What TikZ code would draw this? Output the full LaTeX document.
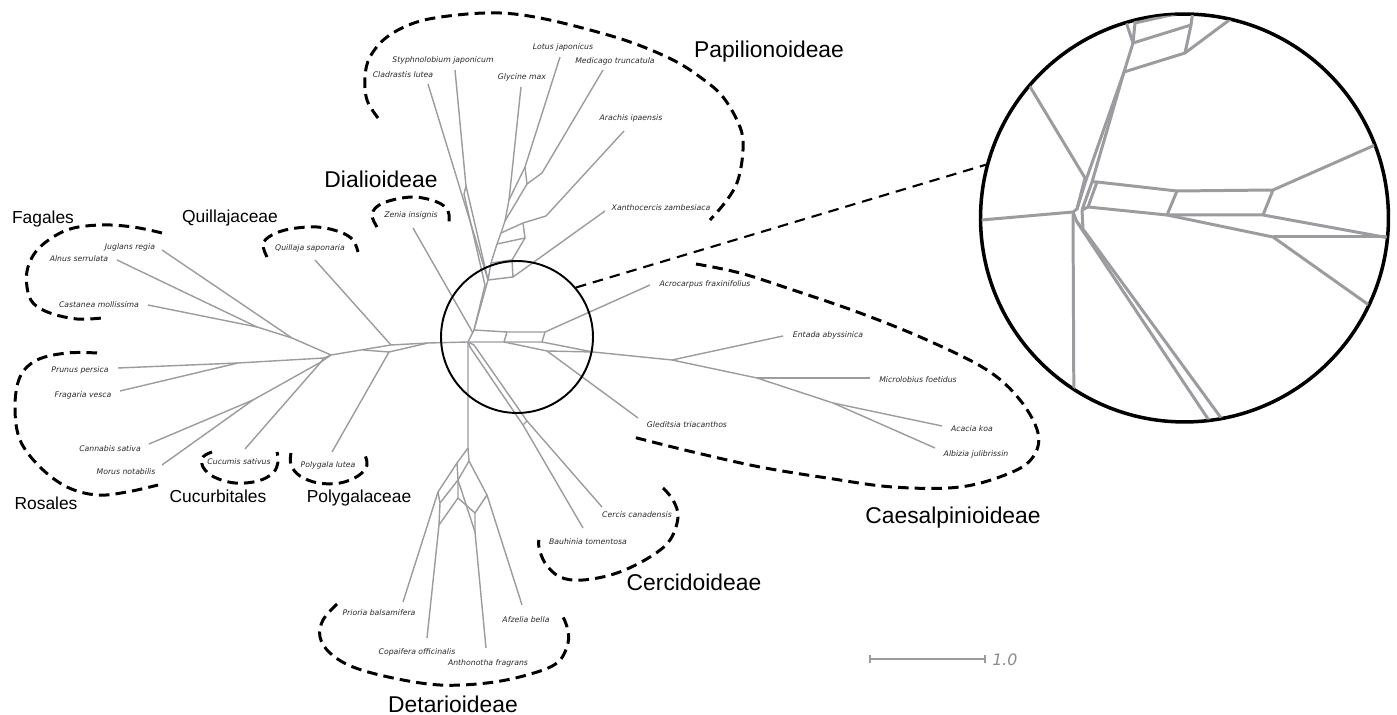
\documentclass[tikz,border=0pt]{standalone}
\usepackage{fontspec}
\usepackage{xcolor}
\newfontfamily\cladefont{Liberation Sans}
\newfontfamily\taxfont{DejaVu Sans}
\definecolor{netgray}{RGB}{155,155,160}
\definecolor{taxtext}{RGB}{40,40,40}

\begin{document}
\begin{tikzpicture}[x=0.02cm,y=-0.02cm,
  net/.style={draw=netgray,line width=0.8pt,line join=round},
  zoomnet/.style={draw=netgray,line width=1.7pt,line join=round},
  tax/.style={font=\taxfont\itshape\fontsize{4.4}{5}\selectfont,text=taxtext,inner sep=0pt},
  clade/.style={font=\cladefont\fontsize{13}{15}\selectfont,inner sep=0pt,anchor=base},
  fam/.style={font=\cladefont\fontsize{9.9}{12}\selectfont,inner sep=0pt,anchor=base},
  group/.style={draw=black,line width=1.7pt,dash pattern=on 6pt off 3.5pt,smooth,tension=0.6},
]
\useasboundingbox (0,0) rectangle (1397,715);

% taxon labels
\node[tax] (jug) at (130,247) {Juglans regia};
\node[tax] (aln) at (79,259) {Alnus serrulata};
\node[tax] (cas) at (99,305) {Castanea mollissima};
\node[tax] (pru) at (80,370) {Prunus persica};
\node[tax] (fra) at (83,395) {Fragaria vesca};
\node[tax] (can) at (110,449) {Cannabis sativa};
\node[tax] (mor) at (126,472) {Morus notabilis};
\node[tax] (cuc) at (239,462) {Cucumis sativus};
\node[tax] (pol) at (328,465) {Polygala lutea};
\node[tax] (qui) at (310,248) {Quillaja saponaria};
\node[tax] (zen) at (411,215) {Zenia insignis};
\node[tax] (cla) at (403,75) {Cladrastis lutea};
\node[tax] (sty) at (443,60) {Styphnolobium japonicum};
\node[tax] (gly) at (522,77) {Glycine max};
\node[tax] (lot) at (563,47) {Lotus japonicus};
\node[tax] (med) at (615,61) {Medicago truncatula};
\node[tax] (ara) at (631,118) {Arachis ipaensis};
\node[tax] (xan) at (661,208) {Xanthocercis zambesiaca};
\node[tax] (acr) at (705,284) {Acrocarpus fraxinifolius};
\node[tax] (ent) at (828,335) {Entada abyssinica};
\node[tax] (mic) at (918,380) {Microlobius foetidus};
\node[tax] (aca) at (972,429) {Acacia koa};
\node[tax] (alb) at (976,454) {Albizia julibrissin};
\node[tax] (gle) at (687,425) {Gleditsia triacanthos};
\node[tax] (cer) at (637,515) {Cercis canadensis};
\node[tax] (bau) at (588,542) {Bauhinia tomentosa};
\node[tax] (pri) at (379,613) {Prioria balsamifera};
\node[tax] (cop) at (417,652) {Copaifera officinalis};
\node[tax] (ant) at (488,663) {Anthonotha fragrans};
\node[tax] (afz) at (526,620) {Afzelia bella};

% leaf ends
\coordinate (lJug) at (162,250);
\coordinate (lAln) at (117,260);
\coordinate (lCas) at (148,305);
\coordinate (lPru) at (118,368);
\coordinate (lFra) at (120,391);
\coordinate (lCan) at (149,444);
\coordinate (lMor) at (162,465);
\coordinate (lCuc) at (245,449);
\coordinate (lPol) at (332,452);
\coordinate (lQui) at (315,260);
\coordinate (lZen) at (413,228);
\coordinate (lCla) at (428,84);
\coordinate (lSty) at (455,70);
\coordinate (lGly) at (521,87);
\coordinate (lLot) at (560,57);
\coordinate (lMed) at (603,70);
\coordinate (lAra) at (624,131);
\coordinate (lXan) at (605,211);
\coordinate (lAcr) at (650,285);
\coordinate (lEnt) at (783,336);
\coordinate (lMic) at (870,378);
\coordinate (lAca) at (942,426);
\coordinate (lAlb) at (935,448);
\coordinate (lGle) at (638,418);
\coordinate (lCer) at (602,507);
\coordinate (lBau) at (583,528);
\coordinate (lPri) at (403,602);
\coordinate (lCop) at (427,638);
\coordinate (lAnt) at (486,648);
\coordinate (lAfz) at (522,605);

% inner vertices
\coordinate (h) at (468,342);
\coordinate (qa) at (428,343);
\coordinate (qb) at (391,345);
\coordinate (qc) at (389,352);
\coordinate (qd) at (363,350);
\coordinate (ro) at (331,355);
\coordinate (rp) at (324,358);
\coordinate (rq) at (321,362);
\coordinate (rf) at (292,338);
\coordinate (rfa) at (257,327);
\coordinate (rr) at (238,363);
\coordinate (rc) at (253,400);
\coordinate (zj) at (473,333);
\coordinate (ps) at (474,330);
\coordinate (pb) at (488,280);
\coordinate (pc) at (485,285);
\coordinate (s1) at (466,186);
\coordinate (s2) at (464,194);
\coordinate (g1) at (509,200);
\coordinate (l1) at (525,167);
\coordinate (l2) at (527,184);
\coordinate (m1) at (542,173);
\coordinate (k2) at (505,221);
\coordinate (k3) at (501,233);
\coordinate (k4) at (497,244);
\coordinate (k5) at (491,263);
\coordinate (a1) at (546,216);
\coordinate (a2) at (523,223);
\coordinate (a3) at (525,238);
\coordinate (x1) at (513,277);
\coordinate (x2) at (512,260);
\coordinate (c1) at (507,332);
\coordinate (c2) at (545,332);
\coordinate (c3) at (504,342);
\coordinate (c4) at (542,342);
\coordinate (c5) at (547,351);
\coordinate (c6) at (593,352);
\coordinate (e1) at (672,360);
\coordinate (mi) at (757,378);
\coordinate (ak) at (833,403);
\coordinate (cd1) at (470,347);
\coordinate (cd2) at (474,345);
\coordinate (cd3) at (523,425);
\coordinate (cd4) at (527,421);
\coordinate (d0) at (468,448);
\coordinate (d1) at (457,463);
\coordinate (d2) at (438,492);
\coordinate (d3) at (469,461);
\coordinate (d4) at (458,480);
\coordinate (d5) at (487,495);
\coordinate (d6) at (440,503);
\coordinate (d7) at (439,525);
\coordinate (d8) at (458,498);
\coordinate (d9) at (475,513);
\coordinate (d10) at (475,532);

% network
\draw[net] (h) -- (qa) -- (qb) -- (ro) -- (rf) -- (rfa) -- (lAln);
\draw[net] (rfa) -- (lCas);
\draw[net] (rf) -- (lJug);
\draw[net] (qa) -- (qc) -- (qd);
\draw[net] (qb) -- (lQui);
\draw[net] (qc) -- (lPol);
\draw[net] (ro) -- (rp) -- (rr) -- (lPru);
\draw[net] (rr) -- (lFra);
\draw[net] (rp) -- (rq) -- (rc) -- (lCan);
\draw[net] (rc) -- (lMor);
\draw[net] (rq) -- (lCuc);
\draw[net] (ro) -- (rq);
\draw[net] (lZen) -- (zj);

\draw[net] (h) -- (ps) -- (pb) -- (lCla);
\draw[net] (ps) -- (pc) -- (s2) -- (s1) -- (lSty);
\draw[net] (s1) -- (pb);
\draw[net] (lGly) -- (g1) -- (k2) -- (k3) -- (k4) -- (k5) -- (pb);
\draw[net] (lLot) -- (l1) -- (g1);
\draw[net] (l1) -- (l2);
\draw[net] (lMed) -- (m1) -- (l2) -- (k2);
\draw[net] (lAra) -- (a1) -- (a2) -- (k3);
\draw[net] (a2) -- (a3) -- (k4);
\draw[net] (a3) -- (x2) -- (k5);
\draw[net] (lXan) -- (x1) -- (x2);
\draw[net] (x1) -- (pb);

\draw[net] (ps) -- (c1) -- (c2) -- (lAcr);
\draw[net] (h) -- (c3) -- (c4) -- (c6) -- (e1) -- (mi) -- (ak) -- (lAlb);
\draw[net] (c1) -- (c3);
\draw[net] (c2) -- (c4);
\draw[net] (c3) -- (c5) -- (c6);
\draw[net] (c5) -- (lGle);
\draw[net] (e1) -- (lEnt);
\draw[net] (mi) -- (lMic);
\draw[net] (ak) -- (lAca);

\draw[net] (h) -- (cd1) -- (cd3) -- (lBau);
\draw[net] (h) -- (cd2) -- (cd4) -- (lCer);
\draw[net] (cd3) -- (cd4);

\draw[net] (h) -- (d0) -- (d1) -- (d2) -- (d6) -- (d7) -- (lCop);
\draw[net] (d2) -- (lPri);
\draw[net] (d0) -- (d3) -- (d5) -- (lAfz);
\draw[net] (d1) -- (d4) -- (d8) -- (d7);
\draw[net] (d3) -- (d4) -- (d6);
\draw[net] (d8) -- (d9) -- (d10) -- (lAnt);
\draw[net] (d5) -- (d9);
\draw[net] (d4) -- (d10);

% group outlines
\draw[group] plot coordinates {(162,233) (133,227) (100,225) (67,230) (40,247) (28,267) (27,287) (33,303) (50,313) (77,319) (102,318)};
\draw[group] plot coordinates {(97,353) (67,353) (37,360) (20,377) (15,407) (20,440) (40,467) (67,487) (97,495) (127,492) (158,485)};
\draw[group] plot coordinates {(267,257) (263,244) (272,235) (290,229) (317,227) (340,232) (353,240) (358,252)};
\draw[group] plot coordinates {(377,227) (372,214) (383,203) (412,197) (437,202) (448,211) (449,224)};
\draw[group] plot coordinates {(212,452) (203,457) (203,467) (214,477) (235,483) (258,481) (273,473) (278,462) (277,452)};
\draw[group] plot coordinates {(291,453) (291,465) (300,476) (318,483) (340,483) (358,476) (367,465) (364,453)};
\draw[group] plot coordinates {(378,118) (367,100) (365,77) (370,57) (387,37) (417,22) (457,15) (500,13) (540,18) (590,30) (633,43) (673,60) (700,77) (723,97) (740,127) (743,150) (738,180) (727,200) (710,220)};
\draw[group] plot coordinates {(696,264) (740,273) (793,290) (860,313) (927,340) (987,370) (1020,400) (1038,433) (1033,457) (1010,473) (960,487) (893,487) (827,478) (760,467) (693,452) (633,437)};
\draw[group] plot coordinates {(663,488) (673,500) (678,517) (670,540) (650,557) (617,573) (583,580) (560,577) (545,563) (539,547) (539,540)};
\draw[group] plot coordinates {(337,604) (323,620) (320,637) (330,653) (353,667) (393,678) (440,685) (487,683) (527,675) (557,663) (568,643) (567,627) (562,615)};

% group names
\node[fam] (fagales) at (43,224) {Fagales};
\node[fam] (quillajaceae) at (230,223) {Quillajaceae};
\node[clade] (dialioideae) at (381,188) {Dialioideae};
\node[clade] (papilionoideae) at (769,58) {Papilionoideae};
\node[fam] (rosales) at (46,510) {Rosales};
\node[fam] (cucurbitales) at (218,503) {Cucurbitales};
\node[fam] (polygalaceae) at (359,503) {Polygalaceae};
\node[clade] (caesalpinioideae) at (953,524) {Caesalpinioideae};
\node[clade] (cercidoideae) at (694,591) {Cercidoideae};
\node[clade] (detarioideae) at (453,713) {Detarioideae};

% zoom circle and inset
\node[draw=black,line width=1.1pt,circle,minimum size=3.04cm,inner sep=0pt] (lens) at (517,337) {};
\node[draw=black,line width=2pt,circle,minimum size=8.16cm,inner sep=0pt] (inset) at (1184.5,218) {};
\draw[black,line width=1.2pt,dash pattern=on 6pt off 4pt] (lens.40) -- (inset.165);

\begin{scope}
\clip (1184.5,218) circle[radius=4.06cm];
\coordinate (iH) at (1073,212);
\coordinate (iL) at (970,221);
\coordinate (iZ0) at (1020,70);
\coordinate (iZ1) at (1085,178);
\coordinate (ia) at (1124,72);
\coordinate (ib) at (1086,180);
\coordinate (ic) at (1092,182);
\coordinate (id) at (1077,209);
\coordinate (ie) at (1082,210);
\coordinate (it2) at (1185,53);
\coordinate (it3) at (1232,18);
\coordinate (it4) at (1191,25);
\coordinate (it5) at (1193,10);
\coordinate (it6) at (1133,43);
\coordinate (it7) at (1135,23);
\coordinate (it8) at (1140,8);
\coordinate (it9) at (1127,25);
\coordinate (it10) at (1125,10);
\coordinate (iT0) at (1097,182);
\coordinate (iT1) at (1177,191);
\coordinate (iT2) at (1273,190);
\coordinate (iAcr) at (1400,134);
\coordinate (iB0) at (1088,207);
\coordinate (iB1) at (1167,215);
\coordinate (iB2) at (1263,215);
\coordinate (iCae) at (1400,240);
\coordinate (iG1) at (1273,237);
\coordinate (iGle) at (1390,320);
\coordinate (iGh) at (1400,237);
\coordinate (iD) at (1074,430);
\coordinate (iC1) at (1077,222);
\coordinate (iC2) at (1083,229);
\coordinate (iC3) at (1222,440);
\coordinate (iC4) at (1235,437);
\draw[zoomnet] (iL) -- (iH) -- (id) -- (ib) -- (ia) -- (it2) -- (it3);
\draw[zoomnet] (iZ0) -- (iZ1) -- (id);
\draw[zoomnet] (ie) -- (ic) -- (ia);
\draw[zoomnet] (it2) -- (it4) -- (it5);
\draw[zoomnet] (ia) -- (it6) -- (it4);
\draw[zoomnet] (it6) -- (it7) -- (it8);
\draw[zoomnet] (it6) -- (it9) -- (it10);
\draw[zoomnet] (it7) -- (it5);
\draw[zoomnet] (ic) -- (iT0) -- (iT1) -- (iT2) -- (iAcr);
\draw[zoomnet] (iT0) -- (iB0) -- (iB1) -- (iB2) -- (iCae);
\draw[zoomnet] (ie) -- (iB0);
\draw[zoomnet] (iT1) -- (iB1) -- (iG1) -- (iGle);
\draw[zoomnet] (iT2) -- (iB2);
\draw[zoomnet] (iG1) -- (iGh);
\draw[zoomnet] (iH) -- (iD);
\draw[zoomnet] (iH) -- (iC1) -- (iC3);
\draw[zoomnet] (ie) -- (iC2) -- (iC4);
\draw[zoomnet] (iC1) -- (iC2);
\end{scope}

% scale bar
\coordinate (sb0) at (870,659);
\coordinate (sb1) at (985,659);
\draw[netgray,line width=1.1pt] (sb0) -- (sb1);
\draw[netgray,line width=1.1pt] ([yshift=-2.5pt]sb0) -- ([yshift=2.5pt]sb0);
\draw[netgray,line width=1.1pt] ([yshift=-2.5pt]sb1) -- ([yshift=2.5pt]sb1);
\node[font=\taxfont\itshape\fontsize{9}{10}\selectfont,text=netgray!90!black,anchor=west,inner sep=0pt] (sbl) at (992,660) {1.0};
\end{tikzpicture}
\end{document}
